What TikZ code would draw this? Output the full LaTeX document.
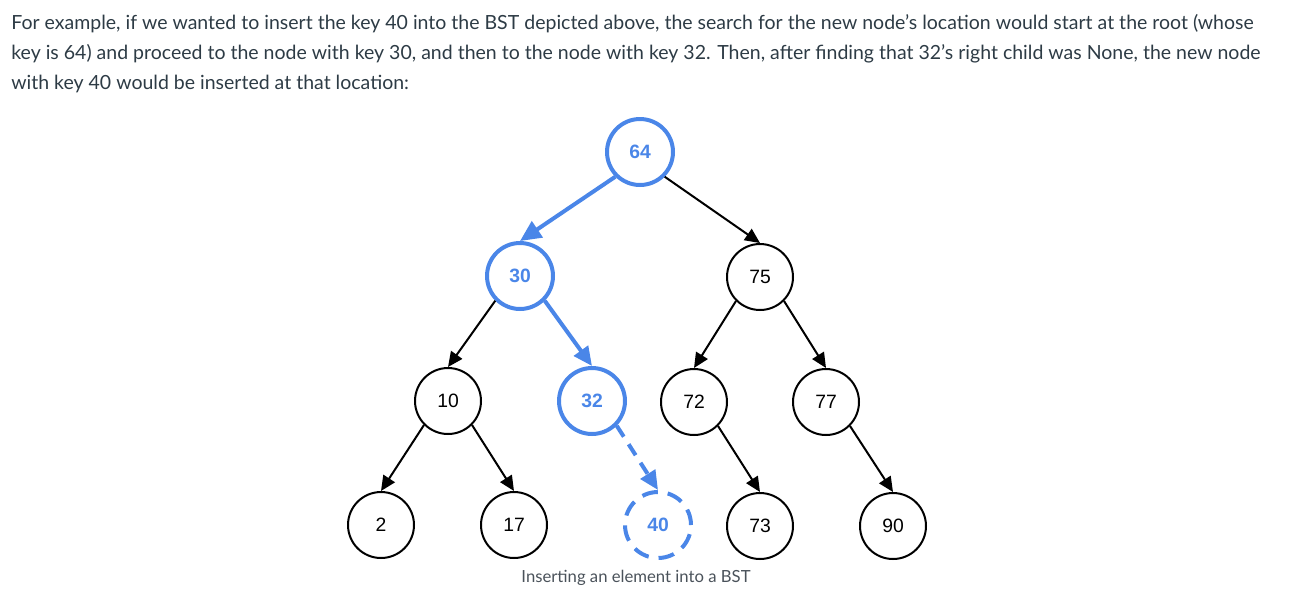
\documentclass[tikz,border=0pt]{standalone}
\usepackage{fontspec}
\setmainfont{Lato}
\newfontfamily\keyfont{Liberation Sans}
\usetikzlibrary{arrows.meta}
\definecolor{searchblue}{HTML}{4A86E8}
\definecolor{prosegray}{HTML}{2D3B45}
\definecolor{capgray}{HTML}{4A525A}

\tikzset{
  bstnode/.style={circle,draw=black,line width=0.04cm,minimum size=1.32cm,inner sep=0pt,
    font=\keyfont\fontsize{11pt}{12pt}\selectfont},
  visited/.style={bstnode,draw=searchblue,line width=0.08cm,text=searchblue,
    font=\keyfont\bfseries\fontsize{11pt}{12pt}\selectfont},
  newkey/.style={visited,dash pattern=on 0.32cm off 0.2cm},
  link/.style={->,line width=0.04cm},
  pathlink/.style={-{Triangle[length=0.42cm,width=0.38cm]},draw=searchblue,line width=0.08cm},
  prose/.style={anchor=base west,inner sep=0pt,text=prosegray,font=\fontsize{11.1pt}{17pt}\selectfont},
  caption/.style={inner sep=0pt,text=capgray,font=\fontsize{9.5pt}{11pt}\selectfont}
}

\begin{document}
\begin{tikzpicture}[x=0.02cm,y=-0.02cm,>={Triangle[length=0.3cm,width=0.27cm]}]
  \useasboundingbox (0,0) rectangle (1294,603);
  % paragraph above the tree
  \node[prose] (line1) at (11,29) {For example, if we wanted to insert the key 40 into the BST depicted above, the search for the new node’s location would start at the root (whose};
  \node[prose] (line2) at (11,59) {key is 64) and proceed to the node with key 30, and then to the node with key 32. Then, after finding that 32’s right child was None, the new node};
  \node[prose] (line3) at (11,89) {with key 40 would be inserted at that location:};

  % nodes
  \node[visited] (n64) at (640,152) {64};
  \node[visited] (n30) at (520,276) {30};
  \node[bstnode] (n75) at (760,277) {75};
  \node[bstnode] (n10) at (448,401) {10};
  \node[visited] (n32) at (592,401) {32};
  \node[bstnode] (n72) at (694,402) {72};
  \node[bstnode] (n77) at (826,402) {77};
  \node[bstnode] (n2) at (381,525) {2};
  \node[bstnode] (n17) at (514,525) {17};
  \node[newkey] (n40) at (658,525) {40};
  \node[bstnode] (n73) at (760,526) {73};
  \node[bstnode] (n90) at (893,526) {90};

  % edges
  \draw[pathlink] (n64.south west) -- (n30.north);
  \draw[link] (n64.south east) -- (n75.north);
  \draw[link] (n30.south west) -- (n10.north);
  \draw[pathlink,-{Triangle[length=0.38cm,width=0.34cm]}] (n30.south east) -- (n32.north);
  \draw[link] (n75.south west) -- (n72.north);
  \draw[link] (n75.south east) -- (n77.north);
  \draw[link] (n10.south west) -- (n2.north);
  \draw[link] (n10.south east) -- (n17.north);
  \draw[link] (n72.south east) -- (n73.north);
  \draw[link] (n77.south east) -- (n90.north);
  \draw[pathlink,dash pattern=on 0.26cm off 0.18cm,-{Triangle[length=0.38cm,width=0.34cm]}] (n32.south east) -- (n40.north);

  \node[caption] (cap) at (636,578) {Inserting an element into a BST};
\end{tikzpicture}
\end{document}
